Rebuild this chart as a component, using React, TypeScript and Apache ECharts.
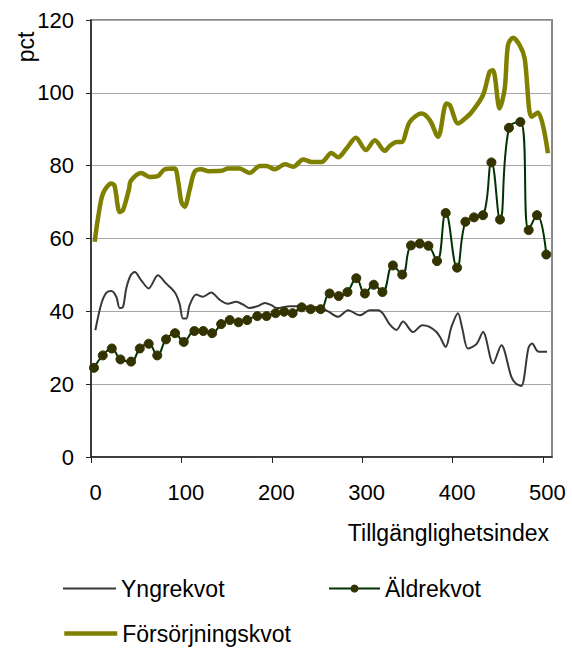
import React, { useEffect, useRef } from "react";
import * as echarts from "echarts";

const xTickValues = [0, 100, 200, 300, 400, 500];

const yngreX = [4.8, 11.4, 16.9, 22.4, 28, 31.7, 35.4, 39, 43.9, 48.3, 55.6, 63.8, 74, 83.3, 92.5, 98, 101.7, 105.4, 109.1, 116.4, 123.8, 133, 142.2, 151.4, 160.6, 168, 175.4, 184, 192.3, 199.7, 205.3, 220, 231, 245, 253.2, 262.3, 273.4, 284.4, 297.4, 308.4, 317.6, 323, 330.5, 338, 345.2, 356.3, 366.5, 374, 382.2, 386, 392.4, 398.7, 406, 411, 417, 426.4, 433.7, 444.8, 454, 465, 470, 476, 484, 488, 494.5, 504.5];
const yngreY = [34.8, 42.1, 45.1, 45.6, 44.0, 40.9, 41.2, 46.3, 49.9, 50.8, 48.5, 46.3, 49.9, 47.6, 45.3, 42.1, 38.0, 38.0, 41.7, 44.6, 44.0, 45.2, 43.2, 42.1, 42.6, 41.9, 40.9, 41.4, 42.3, 41.7, 40.9, 41.4, 41.4, 41.2, 41.0, 40.0, 38.5, 40.3, 38.9, 40.3, 40.3, 39.4, 36.4, 34.9, 37.2, 34.3, 36.2, 35.8, 34.3, 33.0, 30.2, 35.7, 39.5, 35.0, 29.8, 31.0, 34.3, 25.7, 30.7, 22.0, 20.2, 19.5, 30.0, 31.2, 29.0, 28.9];

const aldreX = [3.3, 13, 23, 32.6, 44.4, 54, 63.8, 73.3, 83, 93, 102.6, 114.4, 124.2, 134, 144, 153.5, 163.2, 172.8, 184, 194.2, 204.2, 213.7, 223, 233, 243, 254, 264, 274, 283.7, 293.5, 303, 312.8, 322.4, 334, 344.3, 354, 363.7, 373.3, 382.8, 392.4, 405, 414.2, 423.7, 433.7, 443, 452.5, 462.4, 475, 484.2, 493.4, 503.7];
const aldreY = [24.5, 27.9, 29.8, 26.8, 26.2, 29.8, 31.1, 27.9, 32.3, 34.0, 31.6, 34.6, 34.6, 34.0, 36.5, 37.6, 37.0, 37.6, 38.7, 38.7, 39.5, 39.9, 39.5, 41.1, 40.6, 40.6, 44.9, 44.2, 45.3, 49.1, 44.9, 47.3, 45.3, 52.6, 50.1, 58.1, 58.6, 58.0, 53.8, 67.0, 52.0, 64.6, 65.8, 66.4, 80.9, 65.2, 90.4, 92.0, 62.3, 66.4, 55.6];

const forsX = [4.1, 8, 13.3, 22.5, 26, 31.7, 35.4, 42, 44, 55.6, 64.9, 74, 81.4, 92.5, 96.2, 100, 103.6, 109, 114.6, 122, 129.3, 144, 151.5, 164.4, 175.4, 186.8, 194.2, 203.4, 214.5, 223.7, 234.7, 244, 255, 266, 273.4, 282.6, 293, 304, 314, 325, 330.5, 338, 343.5, 352.6, 365.6, 374.8, 384, 393.2, 397, 406, 411.6, 420.8, 433.7, 441, 444.7, 452, 457.7, 461.3, 466.8, 474.2, 479.8, 487.2, 494.5, 505.5];
const forsY = [59.1, 66.0, 72.4, 75.1, 74.5, 67.3, 67.8, 73.5, 75.8, 78.0, 76.9, 77.1, 79.0, 79.2, 76.0, 70.0, 68.7, 73.3, 78.3, 79.0, 78.5, 78.6, 79.2, 79.2, 78.0, 79.9, 79.9, 79.0, 80.4, 79.7, 81.7, 81.0, 81.0, 83.5, 82.3, 84.7, 87.7, 84.3, 87.0, 84.1, 85.4, 86.5, 86.5, 92.0, 94.3, 92.5, 87.9, 97.1, 96.6, 91.6, 92.5, 94.6, 99.4, 105.8, 106.2, 95.7, 101.2, 113.1, 115.1, 113.1, 109.4, 93.4, 94.6, 83.4];

const seriesNames = ["Yngrekvot", "Äldrekvot", "Försörjningskvot"];
const xAxisTitle = "Tillgänglighetsindex";
const yAxisTitle = "pct";

const FONT = "'Liberation Sans', Arial, sans-serif";

const zip = (xs: number[], ys: number[]) => xs.map((x, i) => [x, ys[i]]);

export default function App() {
  const ref = useRef<HTMLDivElement>(null);
  useEffect(() => {
    document.body.style.margin = "0";
    if (!ref.current) return;
    const chart = echarts.init(ref.current, null, { renderer: "svg" });
    const legendText = { fontSize: 23, color: "#000", fontFamily: FONT };
    const noSymbol = { color: "transparent", borderColor: "transparent", borderWidth: 0, opacity: 0 };
    chart.setOption({
      animation: false,
      backgroundColor: "#fff",
      textStyle: { fontFamily: FONT },
      grid: {
        left: 91,
        top: 20,
        right: 20,
        bottom: 192,
        show: true,
        borderColor: "#8a8a8a",
        borderWidth: 2,
        backgroundColor: "transparent",
      },
      xAxis: {
        type: "value",
        min: 0,
        max: 510,
        interval: 100,
        axisLine: { show: true, lineStyle: { color: "#222", width: 1.5 } },
        axisTick: { show: true, length: 6, customValues: xTickValues, lineStyle: { color: "#222" } },
        axisLabel: {
          customValues: xTickValues,
          fontSize: 22,
          color: "#000",
          fontFamily: FONT,
          margin: 24,
          padding: [0, 0, 0, 9],
        },
        splitLine: { show: false },
      },
      yAxis: {
        type: "value",
        min: 0,
        max: 120,
        interval: 20,
        axisLine: { show: true, lineStyle: { color: "#222", width: 1.5 } },
        axisTick: { show: true, length: 5, lineStyle: { color: "#222" } },
        axisLabel: { fontSize: 22, color: "#000", fontFamily: FONT, margin: 17 },
        splitLine: { show: true, lineStyle: { color: "#a6a6a6", width: 1 } },
      },
      legend: [
        {
          data: [seriesNames[0]],
          left: 62,
          top: 577,
          padding: 0,
          itemWidth: 53,
          itemHeight: 10,
          itemGap: 0,
          itemStyle: noSymbol,
          lineStyle: { width: 2 },
          textStyle: legendText,
        },
        {
          data: [seriesNames[1]],
          left: 328,
          top: 577,
          padding: 0,
          itemWidth: 51,
          itemHeight: 10,
          itemGap: 0,
          lineStyle: { width: 2 },
          textStyle: legendText,
        },
        {
          data: [seriesNames[2]],
          left: 62,
          top: 622,
          padding: 0,
          itemWidth: 53,
          itemHeight: 10,
          itemGap: 0,
          itemStyle: noSymbol,
          lineStyle: { width: 4.5 },
          textStyle: legendText,
        },
      ],
      graphic: [
        {
          type: "text",
          x: 26,
          y: 47,
          rotation: Math.PI / 2,
          style: {
            text: yAxisTitle,
            fontSize: 23,
            fontFamily: FONT,
            fill: "#000",
            align: "center",
            verticalAlign: "middle",
          },
        },
        {
          type: "text",
          x: 549,
          y: 533,
          style: {
            text: xAxisTitle,
            fontSize: 23,
            fontFamily: FONT,
            fill: "#000",
            align: "right",
            verticalAlign: "middle",
          },
        },
      ],
      series: [
        {
          name: seriesNames[0],
          type: "line",
          data: zip(yngreX, yngreY),
          smooth: 0.3,
          showSymbol: false,
          symbol: "none",
          lineStyle: { color: "#383838", width: 2 },
          itemStyle: { color: "#383838" },
          z: 2,
        },
        {
          name: seriesNames[1],
          type: "line",
          data: zip(aldreX, aldreY),
          smooth: 0.45,
          symbol: "circle",
          symbolSize: 9,
          lineStyle: { color: "#003300", width: 2 },
          itemStyle: { color: "#333300", borderColor: "#333300" },
          z: 3,
        },
        {
          name: seriesNames[2],
          type: "line",
          data: zip(forsX, forsY),
          smooth: 0.3,
          symbol: "none",
          lineStyle: { color: "#808000", width: 4.5 },
          itemStyle: { color: "#808000" },
          z: 4,
        },
      ],
    });
    return () => chart.dispose();
  }, []);
  return <div ref={ref} style={{ width: 572, height: 649 }} />;
}
